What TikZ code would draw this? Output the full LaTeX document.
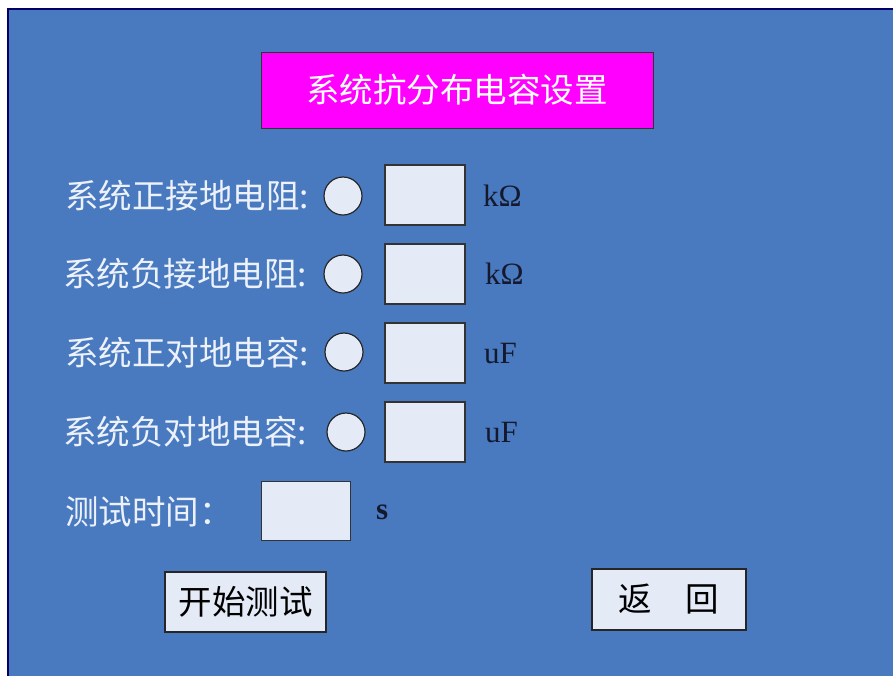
\documentclass[tikz,border=0pt]{standalone}
\usepackage{fontspec}
\setmainfont{Liberation Serif}
\newfontfamily\cjk{Noto Sans CJK SC}
\definecolor{panelblue}{RGB}{73,122,192}
\definecolor{titlemag}{RGB}{255,0,255}
\definecolor{boxfill}{RGB}{229,235,246}
\definecolor{labelwhite}{RGB}{236,241,250}
\definecolor{unitdark}{RGB}{20,25,45}
\tikzset{
 lbl/.style={anchor=west, text=labelwhite, font=\cjk\fontsize{33.5}{33.5}\selectfont, inner sep=0pt},
 inbox/.style={draw=black!80, fill=boxfill, minimum width=80pt, minimum height=60pt, line width=1.2pt},
 radio/.style={circle, draw=black!85, fill=boxfill, minimum size=38pt, line width=1.2pt, inner sep=0pt},
 unit/.style={anchor=west, text=unitdark, font=\fontsize{31}{31}\selectfont, inner sep=0pt},
 btn/.style={draw=black!85, fill=boxfill, line width=1.2pt, text=black, font=\cjk\fontsize{33.5}{33.5}\selectfont}
}

\begin{document}
\begin{tikzpicture}[x=1pt,y=-1pt]
 \useasboundingbox (0,0) rectangle (893,675);
 \fill[white] (0,0) rectangle (893,675);
 \draw[fill=panelblue, draw=black!60!blue, line width=1.5pt] (8,9) rectangle (897,680); % 外枠

 \node (title) [draw=black!80, fill=titlemag, minimum width=392pt, minimum height=76pt, text=white, font=\cjk\fontsize{33.5}{33.5}\selectfont] at (457,90) {系统抗分布电容设置}; % 見出し

 \node (lblA) [lbl] at (65,196) {系统正接地电阻:}; % 1行目
 \node (radA) [radio] at (343,196) {};
 \node (boxA) [inbox] at (425,195) {};
 \node (unitA) [unit] at (483,196) {kΩ};

 \node (lblB) [lbl] at (63,274) {系统负接地电阻:}; % 2行目
 \node (radB) [radio] at (343,274) {};
 \node (boxB) [inbox] at (425,274) {};
 \node (unitB) [unit] at (485,274) {kΩ};

 \node (lblC) [lbl] at (65,353) {系统正对地电容:}; % 3行目
 \node (radC) [radio] at (344,352) {};
 \node (boxC) [inbox] at (425,353) {};
 \node (unitC) [unit] at (484,353) {uF};

 \node (lblD) [lbl] at (63,432) {系统负对地电容:}; % 4行目
 \node (radD) [radio] at (346,432) {};
 \node (boxD) [inbox] at (425,432) {};
 \node (unitD) [unit] at (485,432) {uF};

 \node (lblT) [lbl] at (65,512) {测试时间：}; % 測定時間
 \node (boxT) [inbox, minimum width=89pt, minimum height=59pt] at (306,511) {};
 \node (unitT) [unit, font=\bfseries\fontsize{31}{31}\selectfont] at (376,512) {s};

 \node (startbtn) [btn, minimum width=161pt, minimum height=60pt] at (245.5,602) {开始测试}; % ボタン
 \node (backbtn) [btn, minimum width=154pt, minimum height=61pt] at (669,599.5) {返　回};
\end{tikzpicture}
\end{document}
